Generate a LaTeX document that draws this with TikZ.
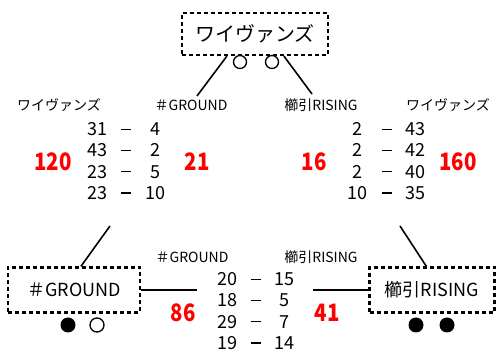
\documentclass[tikz,border=0pt]{standalone}
\usepackage{fontspec}
\setmainfont{Noto Sans CJK JP}
\usepackage{xcolor}
\newcommand{\scoredash}{\rule[5.6pt]{10pt}{1.3pt}}
\begin{document}
\begin{tikzpicture}[x=1pt,y=-1pt,
  dbox/.style={draw, line width=2.2pt, dash pattern=on 4pt off 3pt, inner sep=0pt, minimum height=42pt},
  lbl/.style={font=\fontsize{14}{16}\selectfont, inner sep=0pt},
  num/.style={font=\fontsize{18}{20}\selectfont, inner sep=0pt, anchor=base},
  red/.style={font=\fontsize{24}{26}\selectfont\bfseries, text=red, inner sep=0pt},
  conn/.style={line width=1.6pt},
  ring/.style={draw, line width=1.3pt, circle, minimum size=13pt, inner sep=0pt},
  dot/.style={fill, circle, minimum size=15pt, inner sep=0pt}]
\useasboundingbox (0,0) rectangle (499,352);
% boxes
\node[dbox, minimum width=146pt, font=\fontsize{20}{22}\selectfont] (top) at (255,34) {ワイヴァンズ};
\node[dbox, minimum width=132pt, minimum height=45pt, font=\fontsize{18}{20}\selectfont] (gr) at (74,290) {＃GROUND};
\node[dbox, minimum width=125pt, minimum height=45pt, font=\fontsize{18}{20}\selectfont] (ri) at (432,290) {櫛引RISING};
% circles
\node[ring] (c1) at (240,62) {};
\node[ring] (c2) at (272,62) {};
\node[dot] (c3) at (68,325) {};
\node[ring, minimum size=14pt] (c4) at (97,325) {};
\node[dot] (c5) at (416,325) {};
\node[dot] (c6) at (447,325) {};
% line ends
\coordinate (tl) at (197,96);
\coordinate (tr) at (312,94);
\coordinate (bl) at (110,226);
\coordinate (br) at (400,226);
\coordinate (hl) at (197,290);
\coordinate (hr) at (313,290);
\draw[conn] (top.south west) ++(46,0) coordinate (ta) -- (tl);
\draw[conn] (top.south west) ++(103,0) coordinate (tb) -- (tr);
\draw[conn] (gr.north west) ++(74,0) coordinate (ga) -- (bl);
\draw[conn] (ri.north west) ++(58,0) coordinate (ra) -- (br);
\draw[conn] (gr.east) -- (hl);
\draw[conn] (ri.west) -- (hr);
% labels
\node[lbl] (l1) at (59,105) {ワイヴァンズ};
\node[lbl] (l2) at (191,105) {＃GROUND};
\node[lbl] (l3) at (321,105) {櫛引RISING};
\node[lbl] (l4) at (448,105) {ワイヴァンズ};
\node[lbl] (l5) at (192,257) {＃GROUND};
\node[lbl] (l6) at (321,257) {櫛引RISING};
% red totals
\node[red] (r1) at (53,162) {\scalebox{0.85}[1]{120}};
\node[red] (r2) at (197,162) {\scalebox{0.85}[1]{21}};
\node[red] (r3) at (314,162) {\scalebox{0.85}[1]{16}};
\node[red] (r4) at (458,162) {\scalebox{0.85}[1]{160}};
\node[red] (r5) at (183,313) {\scalebox{0.85}[1]{86}};
\node[red] (r6) at (327,313) {\scalebox{0.85}[1]{41}};
% scores top-left
\foreach \a/\b [count=\i] in {31/4,43/2,23/5,23/10}{
  \node[num] (ta\i) at (97,{135.5+21.3*(\i-1)}) {\a};
  \node[num] (td\i) at (126,{135.5+21.3*(\i-1)}) {\scoredash};
  \node[num] (tb\i) at (155,{135.5+21.3*(\i-1)}) {\b};
}
% scores top-right
\foreach \a/\b [count=\i] in {2/43,2/42,2/40,10/35}{
  \node[num] (ua\i) at (357,{135.5+21.3*(\i-1)}) {\a};
  \node[num] (ud\i) at (387,{135.5+21.3*(\i-1)}) {\scoredash};
  \node[num] (ub\i) at (415,{135.5+21.3*(\i-1)}) {\b};
}
% scores bottom
\foreach \a/\b [count=\i] in {20/15,18/5,29/7,19/14}{
  \node[num] (va\i) at (227,{285.5+21.3*(\i-1)}) {\a};
  \node[num] (vd\i) at (256,{285.5+21.3*(\i-1)}) {\scoredash};
  \node[num] (vb\i) at (284,{285.5+21.3*(\i-1)}) {\b};
}
\end{tikzpicture}
\end{document}
